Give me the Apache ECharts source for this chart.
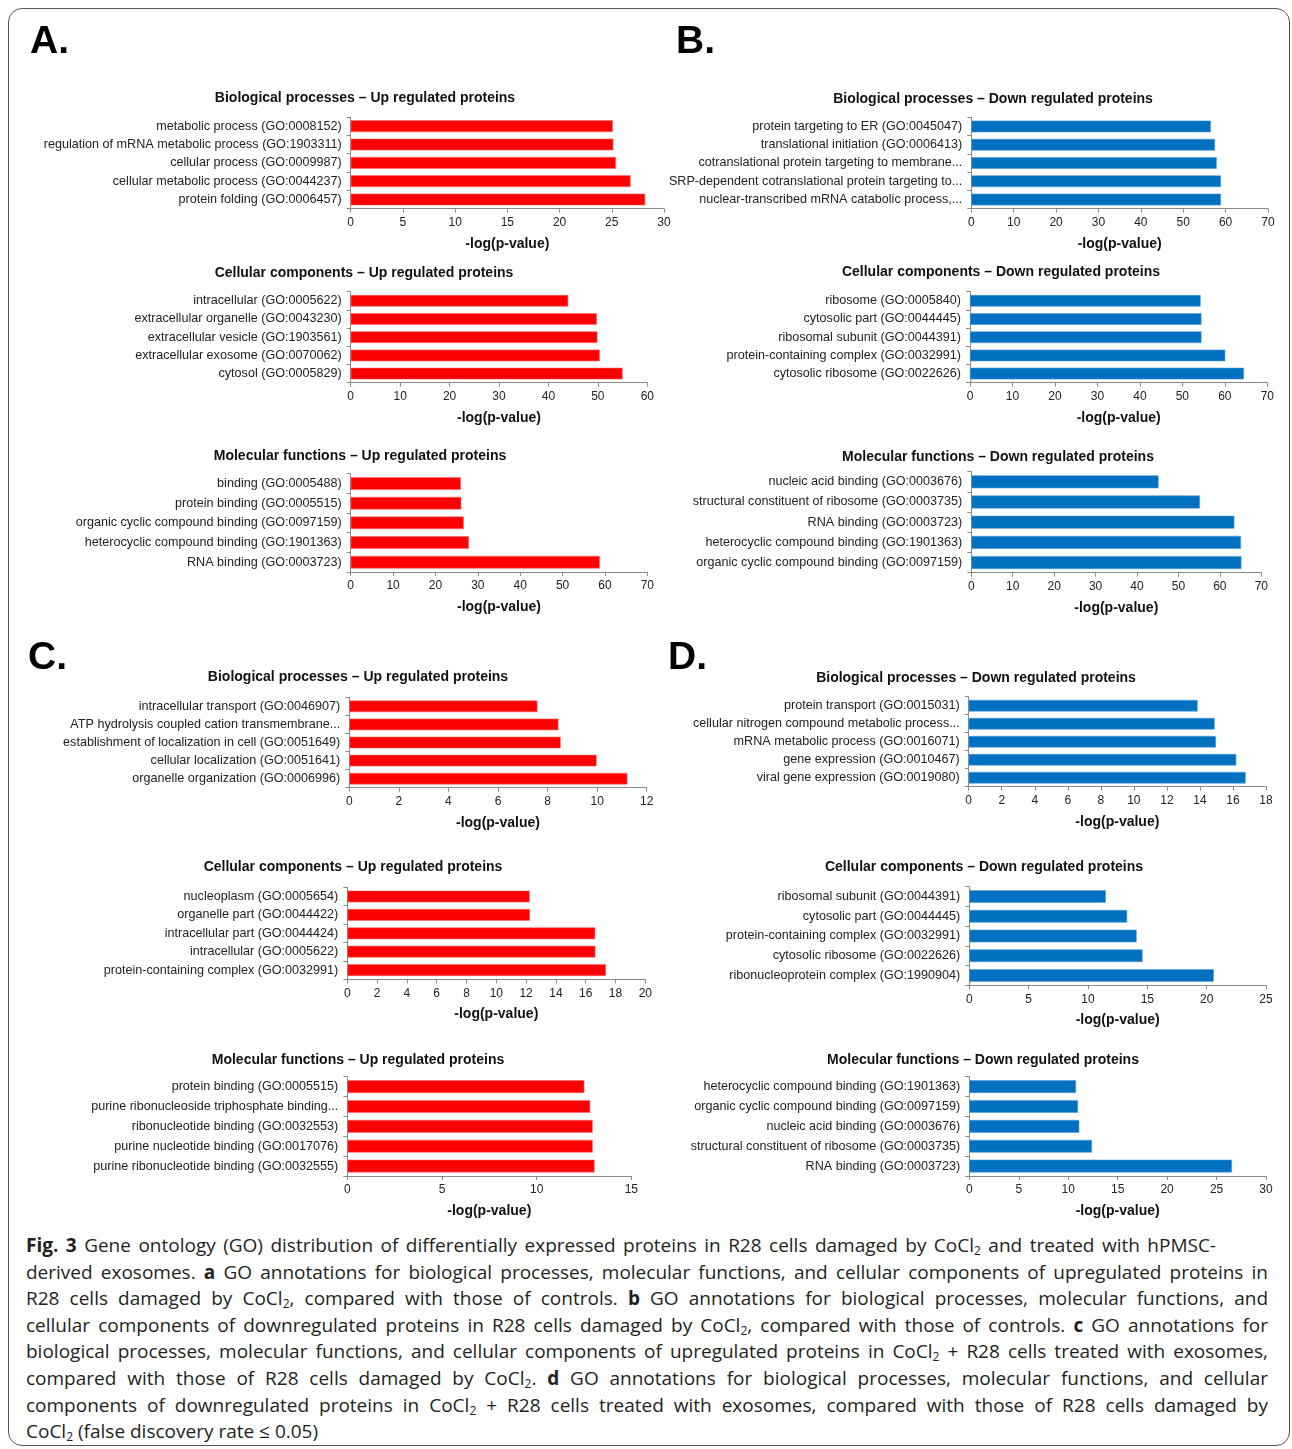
<!DOCTYPE html>
<html>
<head>
<meta charset="utf-8">
<script src="https://cdn.jsdelivr.net/npm/echarts@6/dist/echarts.min.js"></script>
<style>
  html, body { margin: 0; padding: 0; background: #fff; }
  #page { position: relative; width: 1292px; height: 1449px; overflow: hidden; }
  #frame { position: absolute; left: 8px; top: 8px; width: 1282px; height: 1438px;
           box-sizing: border-box; border: 1.5px solid #555; border-radius: 14px; }
  #chart { position: absolute; left: 0; top: 0; width: 1292px; height: 1232px; }
  #caption { position: absolute; left: 26px; top: 1232px; width: 1242px;
             font-family: "Open Sans", "Noto Sans", sans-serif; font-size: 19px;
             color: #231f20; line-height: 26.6px; }
  #caption .ln { white-space: normal; text-align: justify; text-align-last: justify; height: 26.6px; overflow: hidden; }
  #caption .ln.first { width: 1190px; }
  #caption .ln.last { text-align-last: left; }
  #caption b { font-weight: 700; }
  #caption sub { font-size: 12px; vertical-align: -3px; line-height: 0; }
</style>
</head>
<body>
<div id="page">
  <div id="frame"></div>
  <div id="chart"></div>
  <div id="caption">
    <div class="ln first"><b>Fig. 3</b> Gene ontology (GO) distribution of differentially expressed proteins in R28 cells damaged by CoCl<sub>2</sub> and treated with hPMSC-</div>
    <div class="ln">derived exosomes. <b>a</b> GO annotations for biological processes, molecular functions, and cellular components of upregulated proteins in</div>
    <div class="ln">R28 cells damaged by CoCl<sub>2</sub>, compared with those of controls. <b>b</b> GO annotations for biological processes, molecular functions, and</div>
    <div class="ln">cellular components of downregulated proteins in R28 cells damaged by CoCl<sub>2</sub>, compared with those of controls. <b>c</b> GO annotations for</div>
    <div class="ln">biological processes, molecular functions, and cellular components of upregulated proteins in CoCl<sub>2</sub> + R28 cells treated with exosomes,</div>
    <div class="ln">compared with those of R28 cells damaged by CoCl<sub>2</sub>. <b>d</b> GO annotations for biological processes, molecular functions, and cellular</div>
    <div class="ln">components of downregulated proteins in CoCl<sub>2</sub> + R28 cells treated with exosomes, compared with those of R28 cells damaged by</div>
    <div class="ln last">CoCl<sub>2</sub> (false discovery rate ≤ 0.05)</div>
  </div>
</div>
<script>
// ---- GO term data (top-to-bottom order), values are -log(p-value) ----
const aBioLabels = ['metabolic process (GO:0008152)', 'regulation of mRNA metabolic process (GO:1903311)', 'cellular process (GO:0009987)', 'cellular metabolic process (GO:0044237)', 'protein folding (GO:0006457)'];
const aBioValues = [25.1, 25.15, 25.4, 26.8, 28.2];
const aCellLabels = ['intracellular (GO:0005622)', 'extracellular organelle (GO:0043230)', 'extracellular vesicle (GO:1903561)', 'extracellular exosome (GO:0070062)', 'cytosol (GO:0005829)'];
const aCellValues = [44.0, 49.8, 49.9, 50.4, 55.0];
const aMolLabels = ['binding (GO:0005488)', 'protein binding (GO:0005515)', 'organic cyclic compound binding (GO:0097159)', 'heterocyclic compound binding (GO:1901363)', 'RNA binding (GO:0003723)'];
const aMolValues = [26.0, 26.1, 26.7, 27.9, 58.8];

const bBioLabels = ['protein targeting to ER (GO:0045047)', 'translational initiation (GO:0006413)', 'cotranslational protein targeting to membrane...', 'SRP-dependent cotranslational protein targeting to...', 'nuclear-transcribed mRNA catabolic process,...'];
const bBioValues = [56.5, 57.5, 57.9, 58.9, 58.9];
const bCellLabels = ['ribosome (GO:0005840)', 'cytosolic part (GO:0044445)', 'ribosomal subunit (GO:0044391)', 'protein-containing complex (GO:0032991)', 'cytosolic ribosome (GO:0022626)'];
const bCellValues = [54.3, 54.5, 54.5, 60.1, 64.5];
const bMolLabels = ['nucleic acid binding (GO:0003676)', 'structural constituent of ribosome (GO:0003735)', 'RNA binding (GO:0003723)', 'heterocyclic compound binding (GO:1901363)', 'organic cyclic compound binding (GO:0097159)'];
const bMolValues = [45.2, 55.2, 63.5, 65.1, 65.2];

const cBioLabels = ['intracellular transport (GO:0046907)', 'ATP hydrolysis coupled cation transmembrane...', 'establishment of localization in cell (GO:0051649)', 'cellular localization (GO:0051641)', 'organelle organization (GO:0006996)'];
const cBioValues = [7.59, 8.44, 8.53, 9.98, 11.22];
const cCellLabels = ['nucleoplasm (GO:0005654)', 'organelle part (GO:0044422)', 'intracellular part (GO:0044424)', 'intracellular (GO:0005622)', 'protein-containing complex (GO:0032991)'];
const cCellValues = [12.24, 12.26, 16.64, 16.65, 17.36];
const cMolLabels = ['protein binding (GO:0005515)', 'purine ribonucleoside triphosphate binding...', 'ribonucleotide binding (GO:0032553)', 'purine nucleotide binding (GO:0017076)', 'purine ribonucleotide binding (GO:0032555)'];
const cMolValues = [12.52, 12.83, 12.96, 12.96, 13.06];

const dBioLabels = ['protein transport (GO:0015031)', 'cellular nitrogen compound metabolic process...', 'mRNA metabolic process (GO:0016071)', 'gene expression (GO:0010467)', 'viral gene expression (GO:0019080)'];
const dBioValues = [13.86, 14.89, 14.97, 16.2, 16.77];
const dCellLabels = ['ribosomal subunit (GO:0044391)', 'cytosolic part (GO:0044445)', 'protein-containing complex (GO:0032991)', 'cytosolic ribosome (GO:0022626)', 'ribonucleoprotein complex (GO:1990904)'];
const dCellValues = [11.5, 13.3, 14.1, 14.6, 20.6];
const dMolLabels = ['heterocyclic compound binding (GO:1901363)', 'organic cyclic compound binding (GO:0097159)', 'nucleic acid binding (GO:0003676)', 'structural constituent of ribosome (GO:0003735)', 'RNA binding (GO:0003723)'];
const dMolValues = [10.79, 10.99, 11.12, 12.4, 26.56];

// Panel titles and x-axis ranges
const panelTitles = [
  'Biological processes – Up regulated proteins', 'Cellular components – Up regulated proteins', 'Molecular functions – Up regulated proteins',
  'Biological processes – Down regulated proteins', 'Cellular components – Down regulated proteins', 'Molecular functions – Down regulated proteins',
  'Biological processes – Up regulated proteins', 'Cellular components – Up regulated proteins', 'Molecular functions – Up regulated proteins',
  'Biological processes – Down regulated proteins', 'Cellular components – Down regulated proteins', 'Molecular functions – Down regulated proteins'
];
const axisMax  = [30, 60, 70, 70, 70, 70, 12, 20, 15, 18, 25, 30];
const axisStep = [5, 10, 10, 10, 10, 10, 2, 2, 5, 2, 5, 5];
const panelLetters = ['A.', 'B.', 'C.', 'D.'];

const labelSets = [aBioLabels, aCellLabels, aMolLabels, bBioLabels, bCellLabels, bMolLabels,
                   cBioLabels, cCellLabels, cMolLabels, dBioLabels, dCellLabels, dMolLabels];
const valueSets = [aBioValues, aCellValues, aMolValues, bBioValues, bCellValues, bMolValues,
                   cBioValues, cCellValues, cMolValues, dBioValues, dCellValues, dMolValues];

// Layout: plot box [x0, x1, top, axisY] and title centre [cx, cy]
const layout = [
  { box: [350.7, 664.0, 117.0, 208.7], title: [365, 96] },
  { box: [350.7, 647.3, 291.7, 382.7], title: [364, 271] },
  { box: [350.7, 647.3, 473.7, 572.0], title: [360, 454] },
  { box: [971.3, 1268.0, 117.3, 208.7], title: [993, 97] },
  { box: [970.0, 1267.3, 291.7, 382.7], title: [1001, 270] },
  { box: [971.3, 1261.3, 471.7, 572.7], title: [998, 455] },
  { box: [349.3, 646.7, 697.3, 787.7], title: [358, 675] },
  { box: [347.3, 645.3, 887.3, 979.3], title: [353, 865] },
  { box: [347.3, 631.3, 1076.7, 1176.0], title: [358, 1058] },
  { box: [968.7, 1266.0, 696.7, 786.7], title: [976, 676] },
  { box: [969.3, 1266.0, 886.7, 985.3], title: [984, 865] },
  { box: [969.3, 1266.0, 1076.7, 1176.0], title: [983, 1058] }
];
const letterPos = [[30, 23], [676, 23], [28, 639], [668, 639]];

const UP = '#FF0000';
const DOWN = '#0070C0';
const AXIS = '#8a8a8a';
const FONT = 'Liberation Sans, Arial, sans-serif';

const grids = [], xAxes = [], yAxes = [], series = [], titles = [];

layout.forEach((p, i) => {
  const [x0, x1, top, axisY] = p.box;
  const isUp = (i < 3) || (i >= 6 && i < 9);
  grids.push({ left: x0, top: top, width: x1 - x0, height: axisY - top, containLabel: false });
  xAxes.push({
    type: 'value', gridIndex: i, min: 0, max: axisMax[i], interval: axisStep[i],
    name: '-log(p-value)', nameLocation: 'middle', nameGap: 28,
    nameTextStyle: { fontFamily: FONT, fontSize: 14, fontWeight: 'bold', color: '#111' },
    axisLine: { show: true, lineStyle: { color: AXIS, width: 1 } },
    axisTick: { show: true, length: 4, lineStyle: { color: AXIS } },
    axisLabel: { fontFamily: FONT, fontSize: 12, color: '#222', margin: 8 },
    splitLine: { show: false }
  });
  yAxes.push({
    type: 'category', gridIndex: i, data: labelSets[i], inverse: true,
    axisLine: { show: true, lineStyle: { color: AXIS, width: 1 } },
    axisTick: { show: true, length: 4, alignWithLabel: false, lineStyle: { color: AXIS } },
    axisLabel: { fontFamily: FONT, fontSize: 12.6, color: '#222', margin: 9 },
    splitLine: { show: false }
  });
  series.push({
    type: 'bar', xAxisIndex: i, yAxisIndex: i, data: valueSets[i],
    barCategoryGap: '36%', silent: true,
    itemStyle: { color: isUp ? UP : DOWN, borderColor: isUp ? '#ff6a6a' : '#4f9ad6', borderWidth: 0.6 }
  });
  titles.push({
    text: panelTitles[i], left: p.title[0], top: p.title[1] - 5, textAlign: 'center', padding: 0,
    textStyle: { fontFamily: FONT, fontSize: 14, fontWeight: 'bold', color: '#111' }
  });
});

panelLetters.forEach((t, k) => {
  titles.push({
    text: t, left: letterPos[k][0], top: letterPos[k][1], padding: 0,
    textStyle: { fontFamily: FONT, fontSize: 39, fontWeight: 'bold', color: '#000' }
  });
});

const chart = echarts.init(document.getElementById('chart'), null, { renderer: 'canvas' });
chart.setOption({
  animation: false,
  title: titles,
  grid: grids,
  xAxis: xAxes,
  yAxis: yAxes,
  series: series
});
</script>
</body>
</html>
